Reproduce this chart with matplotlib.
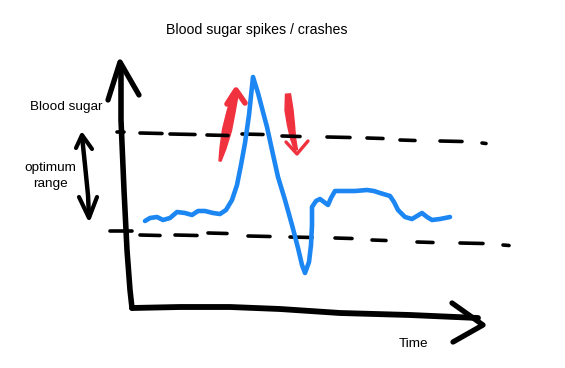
"""
Hand-drawn sketch: blood sugar spikes / crashes against an optimum range.
"""
import matplotlib
matplotlib.use("Agg")
import matplotlib.pyplot as plt
import numpy as np

W, H = 565, 368

# blood sugar trace (pixel space, y down)
time_px = [145, 150, 157, 163, 170, 177, 185, 192, 198, 205, 213, 220, 226,
           232, 237, 241, 245, 249, 253, 258, 263, 267, 272, 278, 285, 292,
           298, 302, 305, 309, 311, 312, 312, 316, 320, 324, 328, 331, 335,
           345, 355, 367, 374, 380, 390, 394, 398, 405, 412, 417, 422, 427,
           432, 440, 450]
sugar_px = [221, 218, 217, 220, 218, 212, 213, 215, 211, 211, 213, 214, 210,
            200, 185, 165, 143, 115, 77, 93, 112, 127, 150, 177, 200, 225,
            248, 265, 273, 262, 245, 225, 207, 201, 199, 202, 205, 198, 191,
            191, 191, 190, 191, 193, 196, 202, 210, 217, 219, 216, 213, 217,
            220, 219, 217]

# dashed range limits: (x0, x1, y) per dash
upper_dashes = [(140, 162, 133), (170, 195, 134), (207, 228, 135), (242, 263, 134),
                (282, 300, 136), (327, 350, 137), (367, 383, 138), (400, 415, 140),
                (440, 462, 141), (482, 486, 143)]
lower_dashes = [(140, 160, 235), (175, 197, 235), (208, 227, 233), (248, 270, 236),
                (290, 312, 237), (335, 352, 238), (372, 386, 240), (417, 433, 242),
                (460, 483, 243), (503, 509, 245)]

BLACK = "#000000"
BLUE = "#1c86f2"
RED = "#f0323f"


def taper(ax, pts, widths, color):
    """Filled stroke with varying width along a centreline."""
    p = np.array(pts, float)
    w = np.array(widths, float) / 2
    d = np.gradient(p, axis=0)
    d /= np.linalg.norm(d, axis=1)[:, None]
    n = np.stack([-d[:, 1], d[:, 0]], axis=1)
    left = p + n * w[:, None]
    right = p - n * w[:, None]
    poly = np.vstack([left, right[::-1]])
    ax.fill(poly[:, 0], poly[:, 1], color=color, lw=1, ec=color,
            joinstyle="round")


plt.rcParams["font.family"] = ["Liberation Sans", "DejaVu Sans"]
fig = plt.figure(figsize=(W / 100, H / 100), dpi=100)
ax = fig.add_axes([0, 0, 1, 1])
ax.set_xlim(0, W)
ax.set_ylim(H, 0)
ax.axis("off")

kw = dict(color=BLACK, solid_capstyle="round", solid_joinstyle="round")

# axes
ax.plot([121, 121, 124, 127, 130, 132], [68, 120, 190, 250, 290, 308], lw=4.0, **kw)
ax.plot([108, 120, 139], [100, 62, 95], lw=3.8, **kw)
ax.plot([132, 180, 230, 280, 340, 410, 478], [308, 307, 307, 309, 313, 315, 318], lw=4.2, **kw)
ax.plot([452, 483, 453], [303, 325, 342], lw=3.8, **kw)

# ticks
ax.plot([117, 124], [132, 132], lw=2.6, **kw)
ax.plot([110, 132], [231, 231], lw=2.6, **kw)

# double arrow for optimum range
ax.plot([82, 85, 88, 89], [136, 165, 195, 217], lw=3.2, **kw)
ax.plot([76, 82, 92], [148, 135, 149], lw=3.0, **kw)
ax.plot([79, 89, 97], [197, 218, 197], lw=3.0, **kw)

# dashed range limits
for x0, x1, y in upper_dashes:
    ax.plot([x0, x1], [y, y + 0.5], lw=2.6, **kw)
for x0, x1, y in lower_dashes:
    ax.plot([x0, x1], [y, y + 0.5], lw=2.6, **kw)

# blood sugar trace
ax.plot(time_px, sugar_px, color=BLUE, lw=3.3,
        solid_capstyle="round", solid_joinstyle="round")

# red spike / crash arrows
taper(ax, [(220, 161), (223, 148), (227, 130), (231, 112), (235, 95)],
      [2, 6, 9, 8, 6], RED)
ax.plot([227, 236, 245], [104, 90, 103], color=RED, lw=4.0,
        solid_capstyle="round", solid_joinstyle="round")
taper(ax, [(288, 94), (289, 110), (291, 125), (293, 138), (296, 150)],
      [5, 8, 7, 5, 3], RED)
ax.plot([286, 297, 308], [142, 154, 141], color=RED, lw=2.4,
        solid_capstyle="round", solid_joinstyle="round")

# text
ax.text(257, 30, "Blood sugar spikes / crashes", fontsize=10.2, ha="center", va="center")
ax.text(66, 107, "Blood sugar", fontsize=9.7, ha="center", va="center")
ax.text(50, 168, "optimum", fontsize=9.7, ha="center", va="center")
ax.text(50, 184, "range", fontsize=9.7, ha="center", va="center")
ax.text(413, 344, "Time", fontsize=9.7, ha="center", va="center")

fig.savefig("out.png", dpi=100)
